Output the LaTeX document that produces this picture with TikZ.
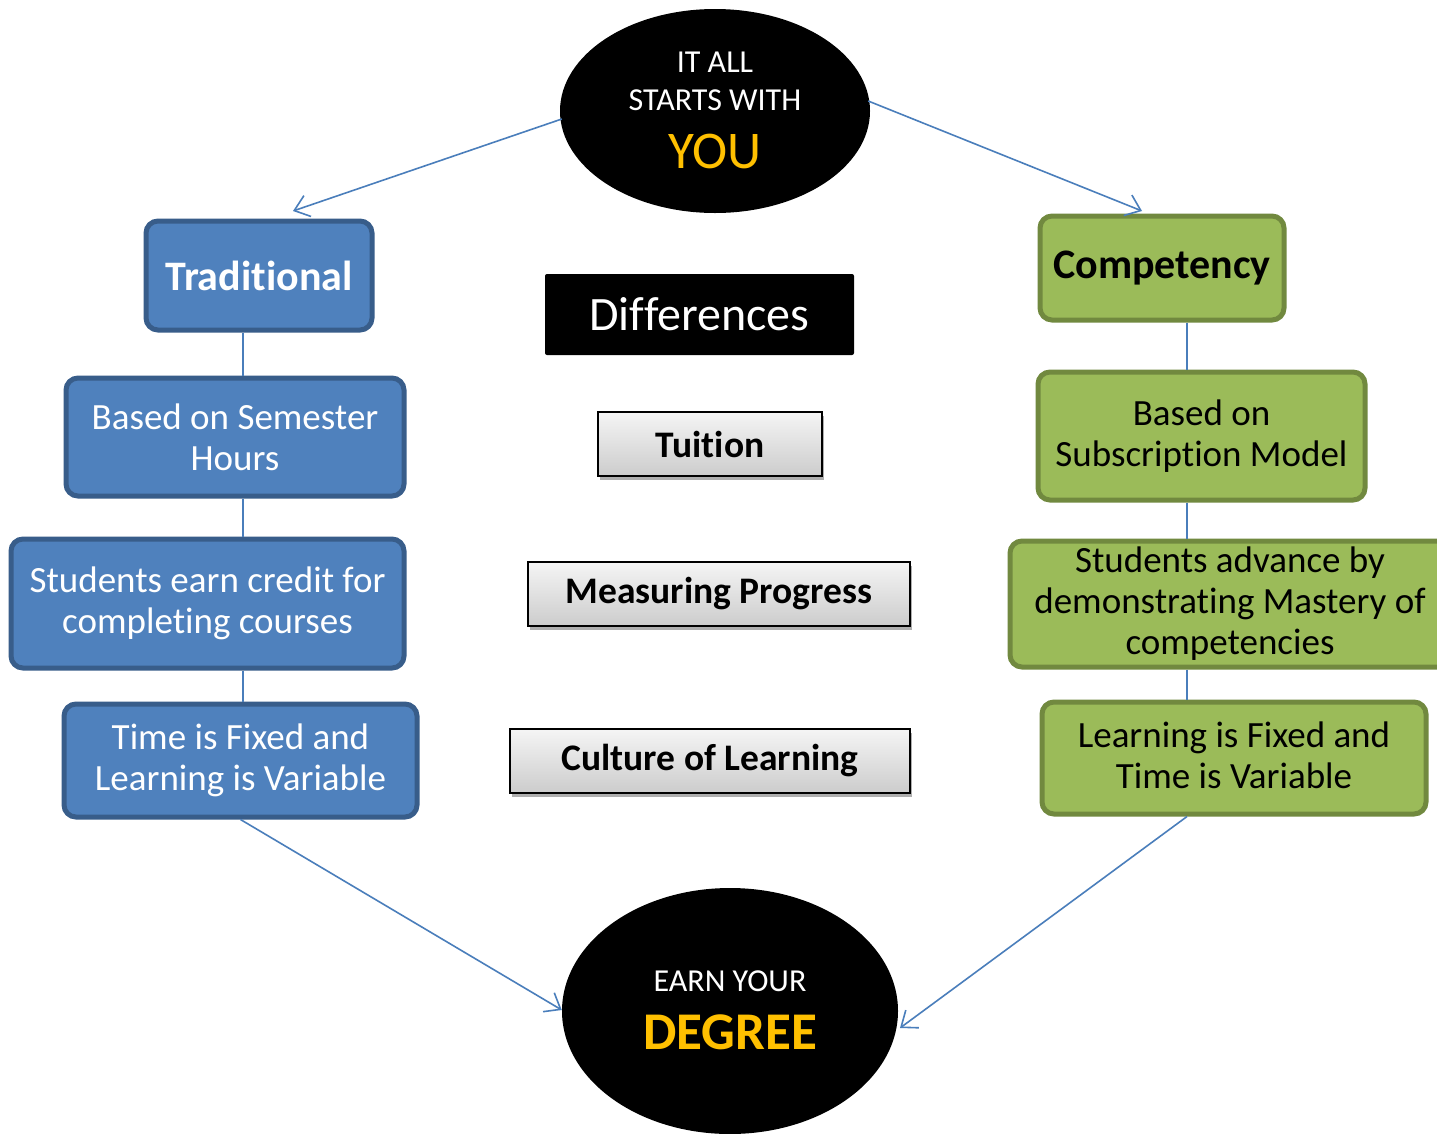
\documentclass[tikz,border=0pt]{standalone}
\usepackage{fontspec}
\setmainfont{Carlito}[Ligatures={NoCommon}]
\usetikzlibrary{shapes.geometric,arrows.meta,shadows}
\definecolor{bfill}{HTML}{4F81BD}
\definecolor{bline}{HTML}{385D8A}
\definecolor{gfill}{HTML}{9BBB59}
\definecolor{gline}{HTML}{71893F}
\definecolor{conn}{HTML}{4A7EBB}
\definecolor{gold}{HTML}{FFC000}
\tikzset{
  bluebox/.style={draw=bline, line width=5pt, fill=bfill, rounded corners=12pt, text=white, align=center, inner sep=0pt,
    font=\fontsize{37}{41}\selectfont},
  greenbox/.style={draw=gline, line width=5pt, fill=gfill, rounded corners=12pt, text=black, align=center, inner sep=0pt,
    font=\fontsize{37}{41}\selectfont},
  graybox/.style={draw=black, line width=1.5pt, top color=gray!8, bottom color=gray!40, align=center, inner sep=0pt,
    font=\bfseries\fontsize{37.5}{42}\selectfont,
    drop shadow={shadow xshift=2pt, shadow yshift=-4pt, opacity=0.45, fill=black!70}},
  oval/.style={ellipse, fill=black, inner sep=0pt, align=center},
  conline/.style={draw=conn, line width=1.6pt},
  conarrow/.style={conline, -{Straight Barb[length=14pt, width=22pt, line width=1.6pt]}},
}
\begin{document}
\begin{tikzpicture}[x=1pt, y=-1pt]
\useasboundingbox (0,0) rectangle (1437,1133);
\clip (0,0) rectangle (1437,1133);
\fill[white] (0,0) rectangle (1437,1133);

\coordinate (lx) at (243,0);
\coordinate (rx) at (1187,0);

\node[bluebox, minimum width=226pt, minimum height=109pt] (trad) at (259,275.5) {\bfseries\fontsize{42}{48}\selectfont Traditional};
\node[bluebox, minimum width=338pt, minimum height=118pt] (sem) at (235,437) {Based on Semester\\Hours};
\node[bluebox, minimum width=393pt, minimum height=129pt] (earn) at (207.5,603.5) {Students earn credit for\\completing courses};
\node[bluebox, minimum width=353pt, minimum height=113pt] (tfix) at (240.5,760.5) {Time is Fixed and\\Learning is Variable};

\node[greenbox, minimum width=244pt, minimum height=104pt] (comp) at (1162,268) {\bfseries\fontsize{42}{48}\selectfont Competency};
\node[greenbox, minimum width=327pt, minimum height=128pt] (sub) at (1201.5,436) {Based on\\Subscription Model};
\node[greenbox, minimum width=440pt, minimum height=126pt] (adv) at (1230,604) {Students advance by\\demonstrating Mastery of\\competencies};
\node[greenbox, minimum width=384pt, minimum height=112pt] (lfix) at (1234,758) {Learning is Fixed and\\Time is Variable\vphantom{g}};

\node[fill=black, rounded corners=2pt, minimum width=309pt, minimum height=81pt, inner sep=0pt, text=white,
  font=\fontsize{48}{54}\selectfont] (diff) at (699.5,314.5) {Differences};
\node[graybox, minimum width=224pt, minimum height=64pt] (tui) at (710,444) {Tuition};
\node[graybox, minimum width=382pt, minimum height=64pt] (meas) at (719,594) {Measuring Progress};
\node[graybox, minimum width=400pt, minimum height=64pt] (cult) at (710,761) {Culture of Learning};

\node[oval, minimum width=310pt, minimum height=204pt] (top) at (715,111) {};
\node[text=white, font=\fontsize{32}{36}\selectfont] (t1) at (715,62) {IT ALL};
\node[text=white, font=\fontsize{32}{36}\selectfont] (t2) at (715,100) {STARTS WITH};
\node[text=gold, font=\fontsize{53}{58}\selectfont] (t3) at (715,151) {YOU};

\node[oval, minimum width=336pt, minimum height=246pt] (bot) at (730,1011) {};
\node[text=white, font=\fontsize{32}{36}\selectfont] (b1) at (730,981) {EARN YOUR};
\node[text=gold, font=\bfseries\fontsize{53}{58}\selectfont] (b2) at (730,1032) {DEGREE};

% vertical connectors
\draw[conline] (trad.south -| lx) -- (sem.north -| lx);
\draw[conline] (sem.south -| lx) -- (earn.north -| lx);
\draw[conline] (earn.south -| lx) -- (tfix.north -| lx);
\draw[conline] (comp.south -| rx) -- (sub.north -| rx);
\draw[conline] (sub.south -| rx) -- (adv.north -| rx);
\draw[conline] (adv.south -| rx) -- (lfix.north -| rx);

% arrows
\coordinate (a1) at (293,211);
\coordinate (a2) at (1142,211);
\coordinate (a3) at (900,1028);
\draw[conarrow] (top.west |- 0,119) ++(2,0) -- (a1);
\draw[conarrow] (top.east |- 0,101) ++(-2,0) -- (a2);
\draw[conarrow] (tfix.south) -- (bot.west |- 0,1010);
\draw[conarrow] (lfix.south -| rx) -- (a3);
\end{tikzpicture}
\end{document}
